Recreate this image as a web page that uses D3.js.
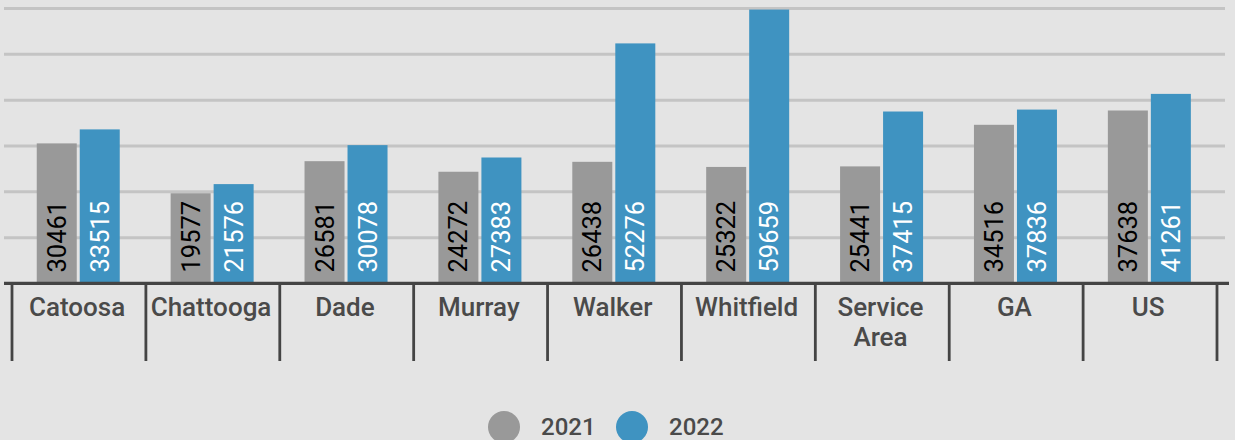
<!DOCTYPE html>
<html><head><meta charset="utf-8">
<script src="https://cdn.jsdelivr.net/npm/d3@7"></script>
<style>
html,body{margin:0;padding:0;background:#e4e4e4;}
svg{display:block;font-family:Roboto,"Noto Sans",sans-serif;}
</style></head>
<body><svg id="c" width="1235" height="440"></svg>
<script>
const categories = ["Catoosa","Chattooga","Dade","Murray","Walker","Whitfield","Service Area","GA","US"];
const seriesNames = ["2021","2022"];
const values2021 = [30461,19577,26581,24272,26438,25322,25441,34516,37638];
const values2022 = [33515,21576,30078,27383,52276,59659,37415,37836,41261];
const yTicks = [0,10000,20000,30000,40000,50000,60000];
const colors = ["#999999","#3f93c1"];
const labelColors = ["#000000","#ffffff"];

const svg = d3.select("#c");
svg.append("rect").attr("width",1235).attr("height",440).attr("fill","#e4e4e4");

const x = d3.scaleBand().domain(categories).range([12,1217]).padding(0);
const y = d3.scaleLinear().domain([0,60000]).range([283,8]);
const groupW = 83;
const xs = d3.scaleBand().domain(seriesNames).range([0,groupW]).paddingInner(3/43).paddingOuter(0);

// gridlines
svg.append("g").selectAll("line").data(yTicks.slice(1)).join("line")
  .attr("x1",4).attr("x2",1225)
  .attr("y1",d=>y(d)+0.5).attr("y2",d=>y(d)+0.5)
  .attr("stroke","#c4c4c4").attr("stroke-width",3);

const data = categories.map((c,i)=>({cat:c, vals:[values2021[i],values2022[i]]}));
const g = svg.append("g").selectAll("g").data(data).join("g")
  .attr("transform",d=>`translate(${x(d.cat)+(x.bandwidth()-groupW)/2-0.7},0)`);

g.selectAll("rect").data(d=>d.vals.map((v,k)=>({v,k}))).join("rect")
  .attr("x",d=>xs(seriesNames[d.k]))
  .attr("width",xs.bandwidth())
  .attr("y",d=>y(d.v))
  .attr("height",d=>y(0)-y(d.v))
  .attr("fill",d=>colors[d.k]);

g.selectAll("text").data(d=>d.vals.map((v,k)=>({v,k}))).join("text")
  .attr("transform",d=>`translate(${xs(seriesNames[d.k])+xs.bandwidth()/2+9},${y(0)-10.5}) rotate(-90)`)
  .attr("font-size",25.5)
  .attr("fill",d=>labelColors[d.k])
  .text(d=>d.v);

// axis line
svg.append("line").attr("x1",4).attr("x2",1229).attr("y1",283.4).attr("y2",283.4)
  .attr("stroke","#444444").attr("stroke-width",3.3);

// category dividers
const bounds = categories.map(c=>x(c)).concat([x.range()[1]]);
svg.append("g").selectAll("line").data(bounds).join("line")
  .attr("x1",d=>d).attr("x2",d=>d).attr("y1",283).attr("y2",361)
  .attr("stroke","#444444").attr("stroke-width",2.8);

// category labels
const lx = d => x(d)+x.bandwidth()/2-1.8;
const lab = svg.append("g").selectAll("text").data(categories).join("text")
  .attr("x",lx)
  .attr("y",315.5)
  .attr("text-anchor","middle")
  .attr("font-size",26)
  .attr("font-weight",500)
  .attr("fill","#4a4a4a");
lab.each(function(d){
  const words = d.split(" ");
  const t = d3.select(this);
  if (words.length>1) {
    words.forEach((w,i)=>t.append("tspan").attr("x",lx(d)).attr("dy",i?30:0).text(w));
  } else t.text(d);
});

// legend
const legX = [504,632];
const leg = svg.append("g").selectAll("g").data(seriesNames).join("g");
leg.append("circle").attr("cx",(d,i)=>legX[i]).attr("cy",427).attr("r",16).attr("fill",(d,i)=>colors[i]);
leg.append("text").attr("x",(d,i)=>legX[i]+37).attr("y",435).attr("font-size",24).attr("font-weight",500).attr("fill","#4a4a4a").text(d=>d);
</script></body></html>
